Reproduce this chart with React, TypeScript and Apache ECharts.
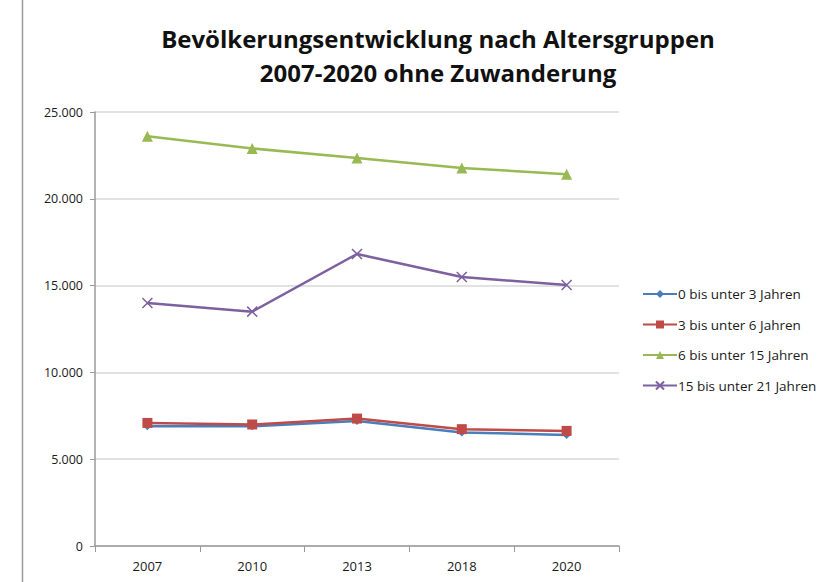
import React, { useEffect, useRef } from "react";
import * as echarts from "echarts";

const categories = ["2007", "2010", "2013", "2018", "2020"];
const seriesNames = [
  "0 bis unter 3 Jahren",
  "3 bis unter 6 Jahren",
  "6 bis unter 15 Jahren",
  "15 bis unter 21 Jahren",
];
const age0to3 = [6900, 6900, 7200, 6540, 6400];
const age3to6 = [7090, 7000, 7340, 6730, 6630];
const age6to15 = [23600, 22900, 22350, 21780, 21420];
const age15to21 = [14000, 13500, 16820, 15500, 15030];
const titleLines = ["Bevölkerungsentwicklung nach Altersgruppen", "2007-2020 ohne Zuwanderung"];

const colors = ["#4A7EBB", "#BE4B48", "#98B954", "#7D60A0"];
const FONT = "'Open Sans', 'Noto Sans', sans-serif";

export default function App() {
  const ref = useRef<HTMLDivElement>(null);
  useEffect(() => {
    if (!ref.current) return;
    const chart = echarts.init(ref.current, null, { renderer: "svg" });
    const values = [age0to3, age3to6, age6to15, age15to21];
    const symbols = ["diamond", "rect", "triangle", "path://M0,0L10,10M10,0L0,10"];
    const sizes = [8, 10, 11, 10];
    chart.setOption({
      animation: false,
      backgroundColor: "#ffffff",
      textStyle: { fontFamily: FONT },
      title: {
        text: titleLines.join("\n"),
        left: 433,
        textAlign: "center",
        top: 16,
        textStyle: {
          fontFamily: FONT,
          fontWeight: "bold",
          fontSize: 24,
          lineHeight: 34,
          color: "#111111",
        },
      },
      graphic: [
        {
          type: "line",
          shape: { x1: 22.5, y1: 0, x2: 22.5, y2: 582 },
          style: { stroke: "#9a9a9a", lineWidth: 1.5 },
        },
      ],
      legend: {
        orient: "vertical",
        left: 637,
        top: 282,
        itemWidth: 34,
        itemHeight: 10,
        itemGap: 16.5,
        textStyle: { fontFamily: FONT, fontSize: 13.5, color: "#1a1a1a", padding: [0, 0, 0, -4] },
        data: seriesNames,
      },
      grid: { left: 95, right: 217, top: 112, bottom: 36 },
      xAxis: {
        type: "category",
        data: categories,
        boundaryGap: true,
        axisLine: { lineStyle: { color: "#9a9a9a", width: 1.5 } },
        axisTick: { show: true, length: 6, lineStyle: { color: "#9a9a9a" } },
        axisLabel: { color: "#1a1a1a", fontSize: 13, margin: 13, fontFamily: FONT },
      },
      yAxis: {
        type: "value",
        min: 0,
        max: 25000,
        interval: 5000,
        axisLine: { show: true, lineStyle: { color: "#9a9a9a", width: 1.5 } },
        axisTick: { show: true, length: 5, lineStyle: { color: "#9a9a9a" } },
        axisLabel: {
          color: "#1a1a1a",
          fontSize: 12.5,
          margin: 12,
          fontFamily: FONT,
          formatter: (v: number) => (v === 0 ? "0" : v.toLocaleString("de-DE")),
        },
        splitLine: { lineStyle: { color: "#d9d9d9", width: 1.5 } },
      },
      series: seriesNames.map((name, i) => ({
        name,
        type: "line",
        data: values[i],
        symbol: symbols[i],
        symbolSize: sizes[i],
        showSymbol: true,
        lineStyle: { color: colors[i], width: 2.5 },
        itemStyle:
          i === 3
            ? { color: colors[i], borderColor: colors[i], borderWidth: 1.5 }
            : { color: colors[i] },
        z: 2 + i,
      })),
    });
    return () => chart.dispose();
  }, []);
  return <div ref={ref} style={{ width: 836, height: 582, position: "absolute", left: 0, top: 0 }} />;
}
